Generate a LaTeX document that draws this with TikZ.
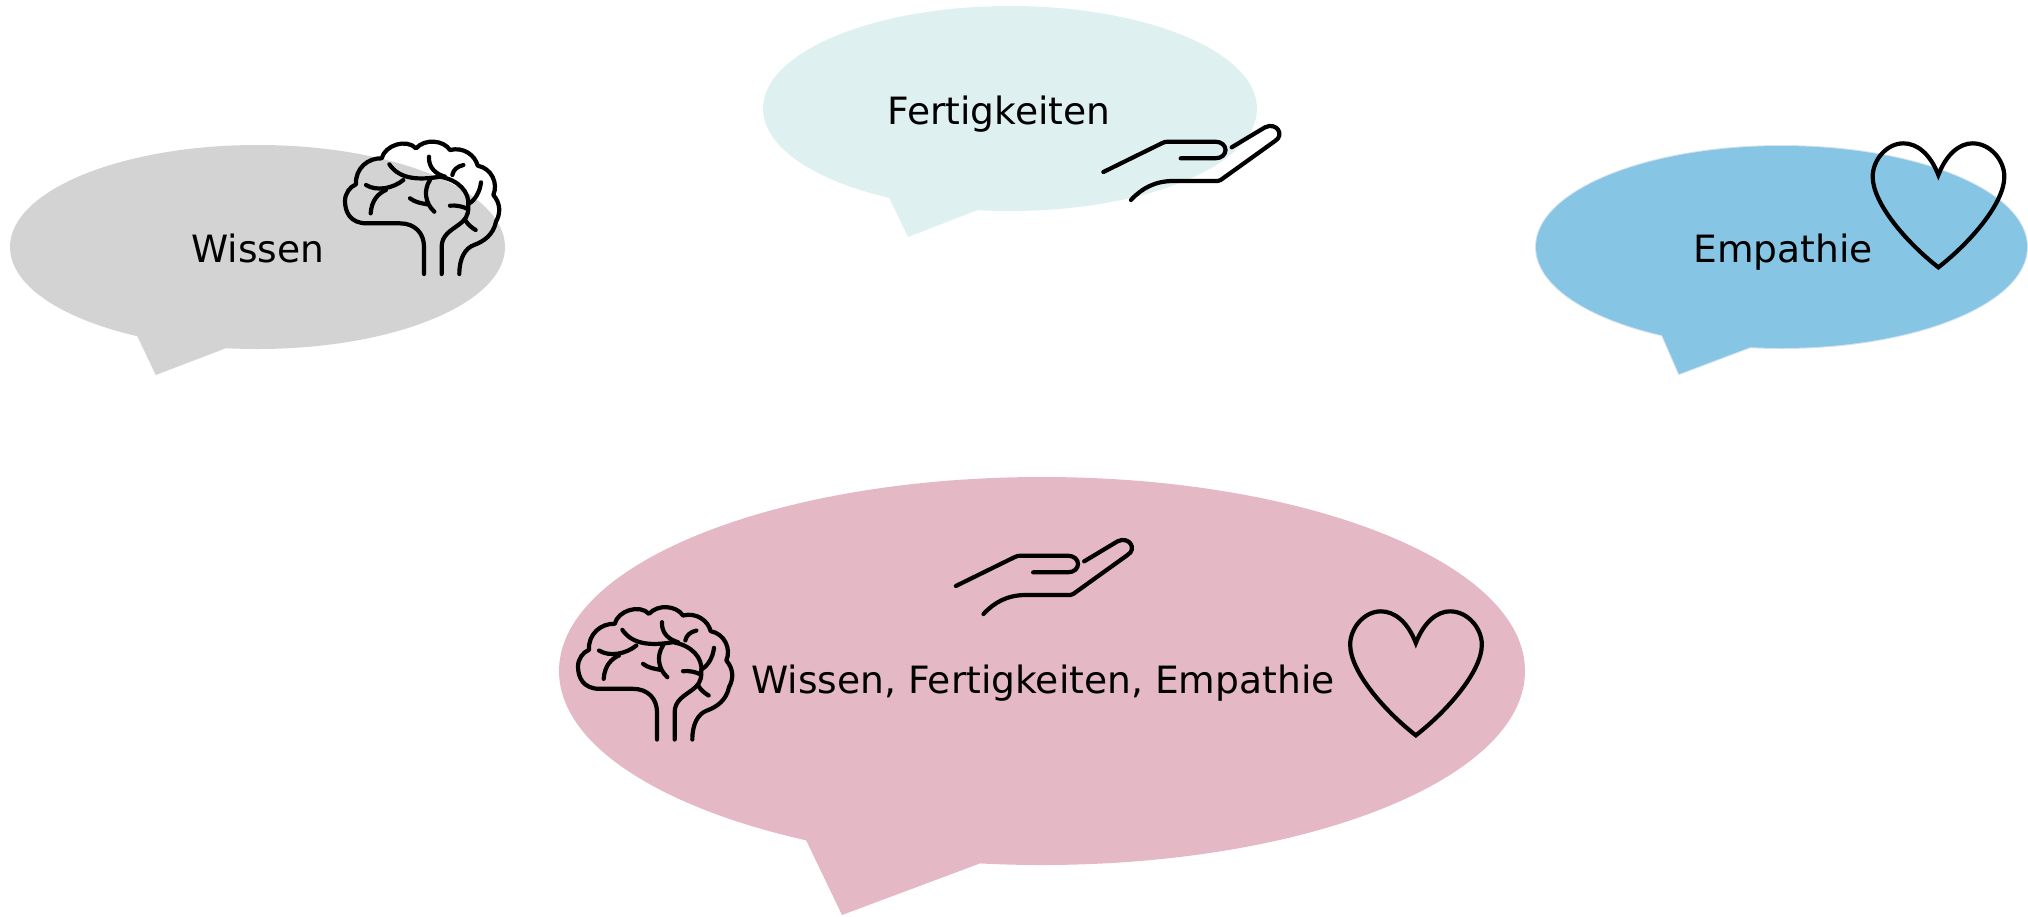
\documentclass[tikz,border=0pt]{standalone}
\usepackage{fontspec}
\setmainfont{DejaVu Sans}
\definecolor{cgray}{HTML}{D3D3D3}
\definecolor{cteal}{HTML}{DEF1F0}
\definecolor{cblue}{HTML}{86C6E4}
\definecolor{chalo}{HTML}{D5E2F2}
\definecolor{cpink}{HTML}{E5B8C6}
\tikzset{
  x=1pt,y=-1pt,
  icon/.style={draw=black,line width=4.2pt,line cap=round,line join=round,fill=none},
  label/.style={font=\fontsize{37.6pt}{40pt}\selectfont,text=black,inner sep=0pt,anchor=base},
  brain/.pic={
    \begin{scope}[xscale=1/3,yscale=1/3]
    \draw[icon] (282,447) -- (282,365) .. controls (282,325) and (255,295) .. (210,295) -- (110,295)
      .. controls (60,295) and (45,260) .. (45,228) .. controls (45,205) and (60,185) .. (78,178)
      .. controls (75,130) and (115,98) .. (155,100) .. controls (165,60) and (230,40) .. (258,70)
      .. controls (285,40) and (340,45) .. (360,75) .. controls (400,65) and (435,90) .. (443,122)
      .. controls (485,130) and (505,175) .. (490,210) .. controls (512,235) and (512,265) .. (498,290)
      .. controls (490,330) and (460,350) .. (432,360) .. controls (405,370) and (388,400) .. (388,447);
    \draw[icon] (335,447) -- (335,365) .. controls (335,330) and (365,315) .. (385,300)
      .. controls (405,285) and (415,275) .. (415,245) .. controls (420,200) and (385,165) .. (330,155)
      .. controls (270,165) and (210,165) .. (178,118);
    \draw[icon] (297,95) .. controls (295,130) and (320,148) .. (345,155);
    \draw[icon] (400,120) .. controls (380,125) and (370,135) .. (367,150);
    \draw[icon] (453,172) .. controls (450,200) and (435,225) .. (418,235);
    \draw[icon] (360,242) .. controls (380,240) and (400,245) .. (413,252);
    \draw[icon] (405,285) .. controls (415,300) and (425,308) .. (437,315);
    \draw[icon] (300,165) .. controls (280,195) and (285,235) .. (313,260);
    \draw[icon] (240,220) .. controls (255,232) and (275,235) .. (292,238);
    \draw[icon] (108,180) .. controls (140,200) and (190,190) .. (220,165);
    \draw[icon] (122,265) .. controls (125,225) and (145,205) .. (168,195);
    \end{scope}
  },
  hand/.pic={
    \begin{scope}[xscale=1/3,yscale=1/3]
    \draw[icon] (40,186) -- (215,100) .. controls (222,96) and (228,95) .. (235,95) -- (375,95)
      .. controls (417,95) and (417,145) .. (375,145) -- (272,145);
    \draw[icon] (425,112) -- (525,52) .. controls (560,35) and (585,75) .. (555,93) -- (392,210)
      .. controls (389,212) and (387,213) .. (383,213) -- (250,213) .. controls (195,213) and (155,235) .. (123,270);
    \end{scope}
  },
  heart/.pic={
    \begin{scope}[xscale=1/3,yscale=1/3]
    \draw[icon,line join=miter] (265,135) .. controls (240,70) and (200,40) .. (160,40)
      .. controls (110,40) and (68,90) .. (68,140) .. controls (68,220) and (170,338) .. (265,412)
      .. controls (360,338) and (463,220) .. (463,140) .. controls (463,90) and (420,40) .. (368,40)
      .. controls (330,40) and (290,70) .. (265,135) -- cycle;
    \end{scope}
  }
}
\begin{document}
\begin{tikzpicture}
\useasboundingbox (0,0) rectangle (2028,916);
% bubbles
\fill[cgray] (257.5,247) ellipse [x radius=247.5,y radius=102];
\fill[cgray] (137,335.5) -- (155.7,375) -- (226,348.2) -- cycle;
\fill[cteal] (1010,108.5) ellipse [x radius=247,y radius=102.5];
\fill[cteal] (889,197.5) -- (908,237) -- (978,210) -- cycle;
\draw[chalo,line width=2pt] (1781.5,247) ellipse [x radius=245.5,y radius=101];
\draw[chalo,line width=2pt] (1662,335) -- (1679,374) -- (1750,347.2);
\fill[cblue] (1781.5,247) ellipse [x radius=245.5,y radius=101];
\fill[cblue] (1662,335) -- (1679,374) -- (1750,347.2) -- cycle;
\fill[cpink] (1042,671) ellipse [x radius=483,y radius=194];
\fill[cpink] (806,840) -- (842,915) -- (980,863.4) -- cycle;
% labels
\node[label] (wissen) at (258,262.7) {Wissen};
\node[label] (fert) at (999,124) {Fertigkeiten};
\node[label] (emp) at (1783,262.7) {Empathie};
\node[label] (all) at (1043,693.6) {Wissen, Fertigkeiten, Empathie};
% icons
\pic at (330,125) {brain};
\pic at (563,590.5) {brain};
\pic at (1090,110) {hand};
\pic at (942.5,524) {hand};
\pic at (1850,130) {heart};
\pic at (1327.5,598) {heart};
\end{tikzpicture}
\end{document}
